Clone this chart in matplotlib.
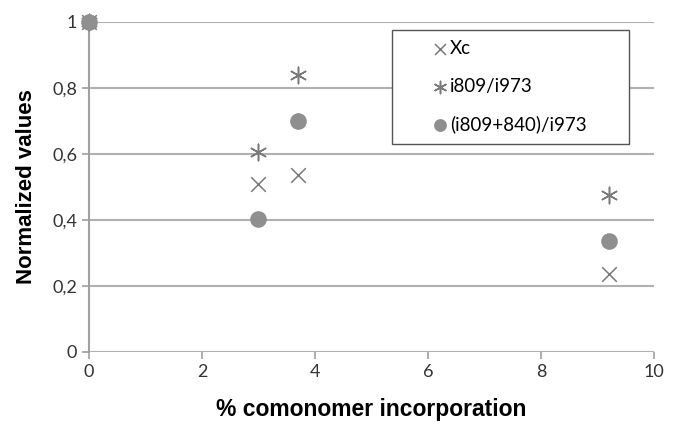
import matplotlib
matplotlib.use("Agg")
import matplotlib.pyplot as plt

plt.rcParams['font.family'] = ['Lato', 'DejaVu Sans']

# comonomer content (%) and normalized values
comonomer = [0.0, 3.0, 3.7, 9.2]
xc = [1.0, 0.51, 0.535, 0.235]
ratio_809 = [1.0, 0.605, 0.838, 0.475]
ratio_809_840 = [1.0, 0.403, 0.70, 0.337]

fig = plt.figure(figsize=(6.73, 4.37), dpi=100)
ax = fig.add_axes([0.132, 0.195, 0.840, 0.755])

ax.scatter(comonomer, xc, marker='x', s=110, color='#7a7a7a', linewidths=1.1,
           label='Xc', zorder=3, clip_on=False)
ax.scatter(comonomer, ratio_809, marker=(6, 2, 0), s=140, color='#7a7a7a',
           linewidths=1.1, label='i809/i973', zorder=3, clip_on=False)
ax.scatter(comonomer, ratio_809_840, marker='o', s=120, color='#8f8f8f',
           label='(i809+840)/i973', zorder=4, clip_on=False)

ax.set_xlim(0, 10)
ax.set_ylim(0, 1)
ax.set_xticks([0, 2, 4, 6, 8, 10])
ax.set_yticks([0, 0.2, 0.4, 0.6, 0.8, 1])
ax.set_yticklabels(['0', '0,2', '0,4', '0,6', '0,8', '1'])
ax.yaxis.grid(True, color='#b0b0b0', linewidth=1.5)
ax.set_axisbelow(True)

for s in ['top', 'right', 'bottom']:
    ax.spines[s].set_visible(False)
ax.spines['left'].set_color('#a0a0a0')
ax.spines['left'].set_linewidth(1.5)
ax.tick_params(axis='both', colors='#a0a0a0', labelcolor='#333333',
               labelsize=13, length=5, width=1.2)

# axis titles in a bold Arial-like face
ax.set_ylabel('Normalized values', fontsize=16, fontweight='bold',
              family='Liberation Sans', labelpad=11)
ax.set_xlabel('% comonomer incorporation', fontsize=16.5, fontweight='bold',
              family='Liberation Sans', labelpad=13)

# legend stretched over a fixed box; text stays left, free space on the right
leg = ax.legend(loc='upper left', bbox_to_anchor=(0.536, 0.976, 0.42, 0.0),
                mode='expand', fontsize=13.5, frameon=True, fancybox=False,
                borderpad=0.55, labelspacing=1.1, handletextpad=-1.5,
                borderaxespad=0.0, handlelength=4.05, markerscale=0.75)
leg.get_frame().set_edgecolor('#555555')
leg.get_frame().set_linewidth(1.0)
leg.get_frame().set_alpha(1)
leg.get_frame().set_boxstyle('square', pad=0)

fig.savefig('out.png', dpi=100)
